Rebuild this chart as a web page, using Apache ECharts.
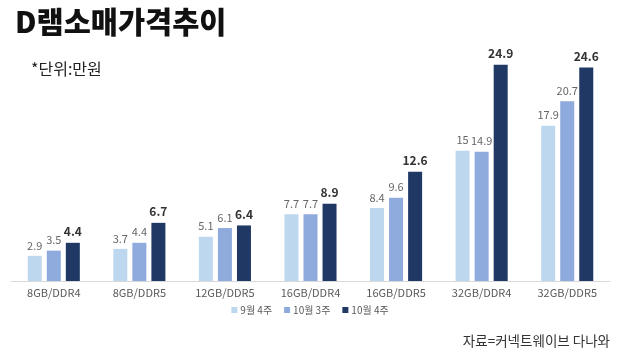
<!DOCTYPE html>
<html><head><meta charset="utf-8">
<script src="https://cdn.jsdelivr.net/npm/echarts@6/dist/echarts.min.js"></script>
<style>html,body{margin:0;padding:0;background:#fff}#c{width:620px;height:360px}</style>
</head><body><div id="c"></div>
<script>
const categories = ['8GB/DDR4','8GB/DDR5','12GB/DDR5','16GB/DDR4','16GB/DDR5','32GB/DDR4','32GB/DDR5'];
const seriesNames = ['9월 4주','10월 3주','10월 4주'];
const sep4 = [2.9, 3.7, 5.1, 7.7, 8.4, 15, 17.9];
const oct3 = [3.5, 4.4, 6.1, 7.7, 9.6, 14.9, 20.7];
const oct4 = [4.4, 6.7, 6.4, 8.9, 12.6, 24.9, 24.6];
const colors = ['#bdd7ee', '#8faadc', '#203864'];
const font = '"Noto Sans CJK KR", "Noto Sans", sans-serif';

const chart = echarts.init(document.getElementById('c'));
const mk = (name, data, i) => ({
  name, type: 'bar', data, barWidth: 14, barGap: '36%',
  itemStyle: { color: colors[i] },
  label: {
    show: true, position: 'top', distance: 5,
    color: i === 2 ? '#333333' : '#666666',
    fontSize: i === 2 ? 12 : 11,
    fontWeight: i === 2 ? 'bold' : 'normal',
    fontFamily: font
  }
});
chart.setOption({
  animation: false,
  title: [
    { text: 'D램소매가격추이', left: 10, top: 2,
      textStyle: { fontSize: 29.5, fontWeight: 900, color: '#111', fontFamily: font } },
    { text: '*단위:만원', left: 26, top: 56,
      textStyle: { fontSize: 16, fontWeight: 'normal', color: '#222', fontFamily: font } },
    { text: '자료=커넥트웨이브 다나와', right: 5, top: 329,
      textStyle: { fontSize: 13.5, fontWeight: 'normal', color: '#333', fontFamily: font } }
  ],
  legend: {
    data: seriesNames, bottom: 40, left: 'center',
    itemWidth: 6, itemHeight: 6, itemGap: 12, icon: 'rect',
    textStyle: { fontSize: 10, color: '#595959', fontFamily: font, padding: [0,0,0,-2] }
  },
  grid: { left: 11, right: 10, top: 64, bottom: 79 },
  xAxis: {
    type: 'category', data: categories,
    axisLine: { lineStyle: { color: '#d9d9d9' } },
    axisTick: { show: false },
    axisLabel: { color: '#595959', fontSize: 11, fontFamily: font, margin: 6 }
  },
  yAxis: { type: 'value', min: 0, max: 25, show: false, splitLine: { show: false } },
  series: [mk(seriesNames[0], sep4, 0), mk(seriesNames[1], oct3, 1), mk(seriesNames[2], oct4, 2)]
});
</script></body></html>
